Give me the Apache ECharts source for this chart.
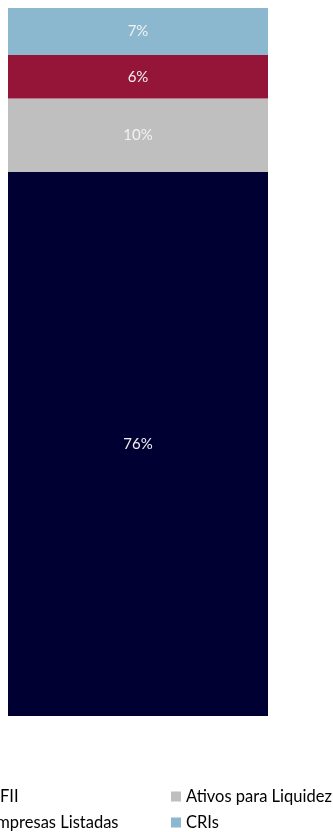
<!DOCTYPE html>
<html>
<head>
<meta charset="utf-8">
<script src="https://cdn.jsdelivr.net/npm/echarts@6/dist/echarts.min.js"></script>
<style>
html,body{margin:0;padding:0;background:#fff;}
#c{width:333px;height:832px;}
</style>
</head>
<body>
<div id="c"></div>
<script>
var categories = ['Carteira'];
var seriesNames = ['FII', 'Ativos para Liquidez', 'Empresas Listadas', 'CRIs'];
var fiiValues = [76.4];
var liquidezValues = [10.3];
var empresasValues = [6.1];
var crisValues = [6.6];
var seriesColors = ['#000033', '#bfbfbf', '#951538', '#8bb8cf'];

var allValues = [fiiValues, liquidezValues, empresasValues, crisValues];
var total = allValues.reduce(function (s, a) { return s + a[0]; }, 0);

var chart = echarts.init(document.getElementById('c'), null, {renderer: 'canvas'});
var font = 'Lato, "Open Sans", sans-serif';

var series = seriesNames.map(function (name, i) {
  return {
    name: name,
    type: 'bar',
    stack: 'total',
    barWidth: '100%',
    data: allValues[i],
    itemStyle: {color: seriesColors[i]},
    label: {
      show: true,
      position: 'inside',
      color: '#f2f2f2',
      fontFamily: font,
      fontSize: 15,
      formatter: function (p) { return Math.round(p.value) + '%'; }
    }
  };
});

var legendText = {fontFamily: font, fontSize: 16.5, lineHeight: 16, color: '#000'};

chart.setOption({
  animation: false,
  grid: {left: 8, top: 8, width: 260, height: 708, containLabel: false},
  xAxis: {type: 'category', data: categories, show: false},
  yAxis: {type: 'value', min: 0, max: total, show: false},
  legend: [
    {
      id: 'lg1',
      orient: 'vertical',
      left: -28,
      top: 788,
      height: 60,
      itemWidth: 10,
      itemHeight: 10,
      itemGap: 9,
      padding: 0,
      icon: 'rect',
      textStyle: legendText,
      data: [{name: 'FII', textStyle: {padding: [0, 0, 0, 13]}}, 'Empresas Listadas']
    },
    {
      id: 'lg2',
      orient: 'vertical',
      left: 171,
      top: 788,
      height: 60,
      itemWidth: 10,
      itemHeight: 10,
      itemGap: 9,
      padding: 0,
      icon: 'rect',
      textStyle: legendText,
      data: ['Ativos para Liquidez', 'CRIs']
    }
  ],
  series: series
});
</script>
</body>
</html>
